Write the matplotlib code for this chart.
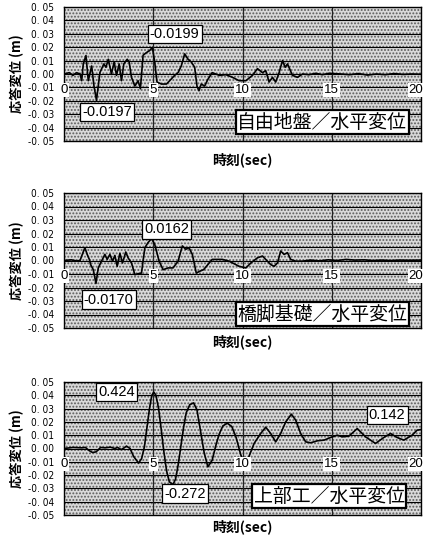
import matplotlib
matplotlib.use("Agg")
import matplotlib.pyplot as plt
from matplotlib.patches import Rectangle

plt.rcParams['hatch.linewidth'] = 0.9

# ---- data: horizontal displacement time histories (time in sec, displacement in m)
t_ground = [0.0, 0.3, 0.5, 0.7, 0.9, 0.99, 1.08, 1.23, 1.36, 1.55, 1.68, 1.82, 2.01, 2.23,
            2.35, 2.48, 2.66, 2.81, 2.94, 3.09, 3.22, 3.35, 3.54, 3.65, 3.78, 3.97, 4.15,
            4.28, 4.43, 4.62, 4.8, 4.95, 5.08, 5.21, 5.46, 5.74, 5.92, 6.2, 6.39, 6.57,
            6.76, 6.95, 7.13, 7.32, 7.45, 7.56, 7.69, 7.88, 8.06, 8.3, 8.7, 9.07, 9.44,
            9.81, 10.19, 10.56, 10.84, 11.12, 11.3, 11.49, 11.68, 11.86, 12.05, 12.24,
            12.39, 12.52, 12.8, 13.08, 13.36, 13.73, 14.1, 14.48, 14.85, 15.5, 16.0, 16.5,
            17.0, 17.5, 18.0, 18.5, 19.0, 19.5, 20.0]
d_ground = [0.0, 0.001, -0.001, 0.001, 0.0, -0.005, 0.0075, 0.0138, -0.005, 0.006, -0.009,
            -0.0197, 0.001, 0.0075, 0.005, 0.011, 0.0, 0.009, -0.001, 0.0075, -0.005, 0.0075,
            0.011, 0.009, -0.0025, -0.009, -0.005, -0.011, 0.014, 0.016, 0.0175, 0.0199,
            0.009, -0.006, -0.0075, -0.0075, -0.005, -0.001, 0.001, 0.006, 0.015, 0.011,
            0.009, 0.005, -0.009, -0.0125, -0.0075, -0.009, -0.004, 0.001, -0.001, -0.0005,
            -0.0025, -0.005, -0.005, -0.001, 0.004, 0.001, 0.0025, -0.006, -0.0025, -0.006,
            0.001, 0.010, 0.005, 0.0075, -0.001, -0.0025, 0.0, -0.0005, 0.0005, -0.0005,
            0.0005, 0.0, -0.0005, 0.0003, -0.0008, 0.0, -0.0005, 0.0003, -0.0003, 0.0,
            -0.0002]

t_pier = [0.0, 0.4, 0.7, 0.9, 0.99, 1.17, 1.30, 1.42, 1.49, 1.64, 1.79, 1.92, 2.1, 2.29,
          2.42, 2.57, 2.72, 2.85, 2.98, 3.13, 3.28, 3.46, 3.59, 3.78, 3.97, 4.15, 4.34,
          4.53, 4.71, 4.9, 5.08, 5.33, 5.55, 5.83, 6.11, 6.39, 6.63, 6.82, 7.0, 7.19, 7.41,
          7.6, 7.82, 8.06, 8.3, 8.88, 9.25, 9.81, 10.19, 10.47, 10.84, 11.12, 11.3, 11.58,
          11.77, 11.96, 12.14, 12.33, 12.52, 12.7, 12.98, 13.36, 13.8, 14.3, 14.8, 15.3,
          15.8, 16.3, 16.8, 17.3, 17.8, 18.3, 18.8, 19.3, 20.0]
d_pier = [0.0, 0.0005, -0.0003, 0.0, 0.0033, 0.0095, 0.0045, 0.0008, -0.003, -0.0068,
          -0.0170, -0.0055, -0.0005, 0.0045, 0.0008, 0.0045, -0.0005, 0.0038, -0.0043,
          0.0053, -0.0018, 0.0063, 0.002, -0.0018, -0.0105, -0.0098, -0.0093, 0.0095,
          0.0133, 0.0162, 0.012, -0.0005, -0.0068, -0.0055, -0.0055, -0.0005, 0.0108,
          0.0083, 0.0095, 0.0045, -0.0093, -0.008, -0.0068, -0.003, 0.0008, 0.0008,
          -0.0005, -0.0043, -0.0055, -0.0018, 0.002, 0.0033, 0.0008, -0.003, -0.0043,
          -0.0018, 0.007, 0.0045, 0.0058, 0.0008, -0.0005, -0.0005, 0.0003, -0.0003, 0.0005,
          0.0, 0.0008, 0.0003, 0.0005, 0.0, 0.0003, 0.0, 0.0003, 0.0002, 0.0003]

t_super = [0.0, 0.5, 1.0, 1.2, 1.4, 1.6, 1.8, 2.05, 2.3, 2.6, 2.85, 3.0, 3.2, 3.35, 3.5,
           3.7, 3.9, 4.18, 4.35, 4.5, 4.65, 4.8, 4.92, 5.03, 5.15, 5.3, 5.45, 5.6, 5.75,
           5.9, 6.1, 6.25, 6.4, 6.55, 6.7, 6.85, 7.05, 7.26, 7.45, 7.65, 7.85, 8.06, 8.3,
           8.5, 8.7, 8.9, 9.15, 9.4, 9.63, 9.91, 10.1, 10.28, 10.65, 11.02, 11.3, 11.58,
           11.86, 12.14, 12.42, 12.74, 12.98, 13.26, 13.54, 13.82, 14.2, 14.57, 14.94, 15.31,
           15.59, 15.96, 16.43, 16.89, 17.45, 17.92, 18.29, 18.66, 19.04, 19.5, 19.78, 20.0]
d_super = [0.0, 0.0008, 0.0005, 0.0008, -0.0015, -0.003, -0.0025, 0.0008, 0.0005, 0.0010,
           0.0, 0.0008, -0.0008, 0.0003, 0.0018, 0.0, -0.006, -0.011, -0.0075, 0.001, 0.016,
           0.031, 0.040, 0.0424, 0.040, 0.030, 0.014, -0.003, -0.017, -0.025, -0.0272,
           -0.023, -0.012, 0.002, 0.016, 0.027, 0.033, 0.0343, 0.029, 0.013, -0.003,
           -0.0138, -0.0088, 0.002, 0.011, 0.017, 0.019, 0.0165, 0.0088, -0.005, -0.0113,
           -0.0088, 0.0038, 0.0113, 0.0160, 0.0113, 0.005, 0.0113, 0.020, 0.0258, 0.0213,
           0.0113, 0.005, 0.0043, 0.0058, 0.0063, 0.0083, 0.010, 0.0088, 0.0093, 0.015,
           0.0088, 0.0038, 0.0083, 0.0113, 0.0083, 0.0063, 0.010, 0.0138, 0.0142]

titles = ["自由地盤／水平変位", "橋脚基礎／水平変位", "上部工／水平変位"]
peak_labels = [["-0.0199", "-0.0197"], ["0.0162", "-0.0170"], ["0.424", "-0.272", "0.142"]]
x_ticks = [0, 5, 10, 15, 20]
y_ticks = [0.05, 0.04, 0.03, 0.02, 0.01, 0.0, -0.01, -0.02, -0.03, -0.04, -0.05]
y_tick_labels = ["0. 05", "0. 04", "0. 03", "0. 02", "0. 01", "0. 00",
                 "-0. 01", "-0. 02", "-0. 03", "-0. 04", "-0. 05"]

# ---- layout (pixels of a 426x545 canvas)
W, H = 426, 545
CJK = ['Noto Sans CJK JP', 'DejaVu Sans']
NUM = ['Liberation Sans', 'DejaVu Sans']

fig = plt.figure(figsize=(W / 100, H / 100), dpi=100)

panels = [
    dict(top=7, bottom=141, t=t_ground, d=d_ground, xlab_y=160,
         labels=[(6.2, 0.0298), (2.4, -0.0284)], title_xy=(14.47, -0.036)),
    dict(top=193, bottom=328, t=t_pier, d=d_pier, xlab_y=342,
         labels=[(5.75, 0.0231), (2.5, -0.029)], title_xy=(14.47, -0.0396)),
    dict(top=382, bottom=515, t=t_super, d=d_super, xlab_y=527,
         labels=[(2.96, 0.0424), (6.76, -0.0339), (18.1, 0.025)], title_xy=(14.86, -0.0358)),
]

left, right = 64, 421
for i, p in enumerate(panels):
    ax = fig.add_axes([left / W, 1 - p['bottom'] / H, (right - left) / W,
                       (p['bottom'] - p['top']) / H])
    ax.set_xlim(0, 20)
    ax.set_ylim(-0.05, 0.05)
    ax.set_facecolor('white')
    # stippled plot area
    ax.add_patch(Rectangle((0, 0), 1, 1, transform=ax.transAxes, facecolor='#d9d9d9',
                           edgecolor='#5a5a5a', hatch='.....', lw=0, zorder=0))
    for yv in y_ticks[1:-1]:
        ax.axhline(yv, color='black', lw=0.8, zorder=1)
    for xv in x_ticks[1:-1]:
        ax.axvline(xv, color='#222222', lw=0.9, zorder=1)
    for s in ax.spines.values():
        s.set_color('black')
        s.set_linewidth(1.0)

    ax.plot(p['t'], p['d'], color='black', lw=1.2, zorder=3)

    ax.set_xticks([])
    ax.set_yticks(y_ticks)
    ax.set_yticklabels(y_tick_labels, family=['DejaVu Sans'], fontsize=7.2,
                       fontstretch='condensed')
    ax.tick_params(axis='y', length=0, pad=7)

    for xv in x_ticks:
        xpos = xv if xv < 20 else 19.72
        ax.text(xpos, -0.0118, str(xv), ha='center', va='center', fontsize=9.5,
                family=NUM, zorder=4, clip_on=False,
                bbox=dict(boxstyle='square,pad=0.08', fc='white', ec='none'))

    for txt, (lx, ly) in zip(peak_labels[i], p['labels']):
        ax.text(lx, ly, txt, ha='center', va='center', fontsize=10.5, family=NUM, zorder=5,
                bbox=dict(boxstyle='square,pad=0.15', fc='white', ec='black', lw=0.9))

    ax.text(p['title_xy'][0], p['title_xy'][1], titles[i], ha='center', va='center',
            fontsize=13.6, family=CJK, zorder=5,
            bbox=dict(boxstyle='square,pad=0.08', fc='white', ec='black', lw=1.6))

    ax.text((17 - left) / (right - left), 0.5, "応答変位 (m)", rotation=90, ha='center',
            va='center', fontsize=9.5, family=CJK, fontweight='bold', transform=ax.transAxes)

    fig.text(242 / W, 1 - p['xlab_y'] / H, "時刻(sec)", ha='center', va='center',
             fontsize=10, family=CJK, fontweight='bold')

fig.savefig("out.png", dpi=100)
